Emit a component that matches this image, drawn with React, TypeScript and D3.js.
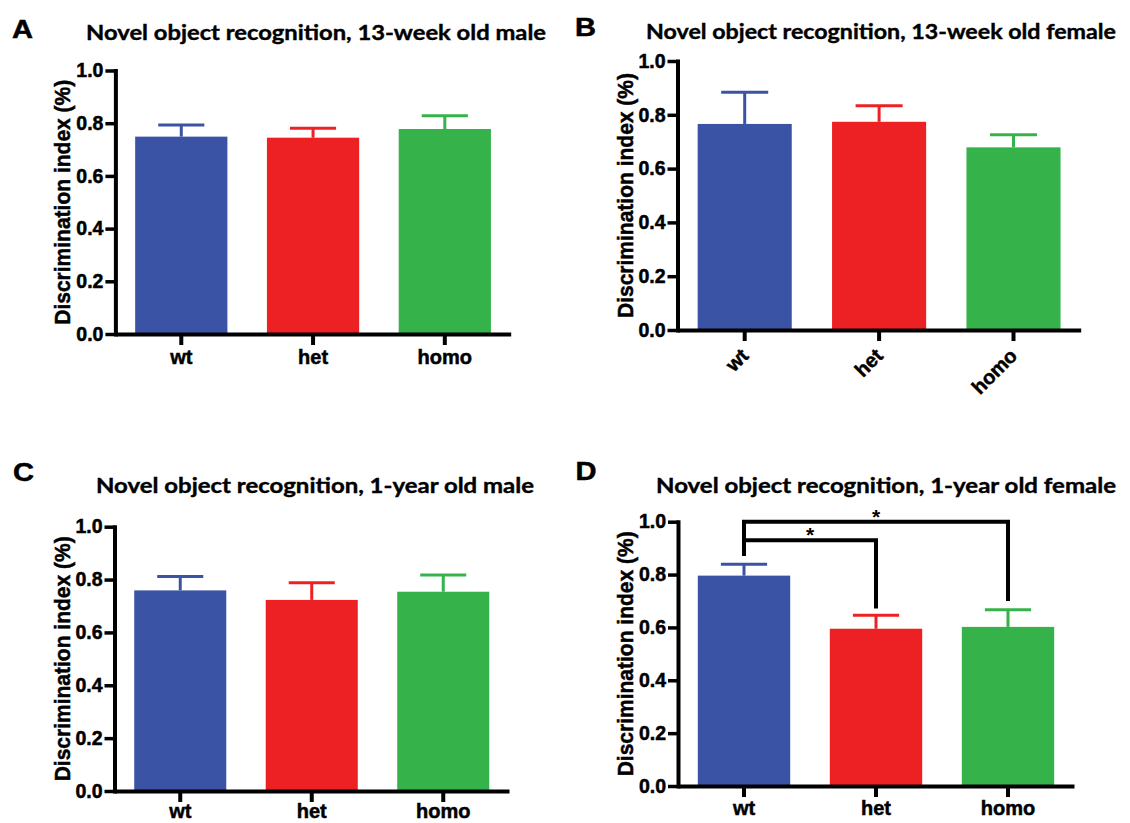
import React, { useEffect, useRef } from 'react'
import * as d3 from 'd3'

// genotype groups and y ticks shared by every panel
const groups = ['wt', 'het', 'homo']
const yTicks = [0, 0.2, 0.4, 0.6, 0.8, 1.0]
const colors = ['#3a53a4', '#ed2024', '#35b34a']

// A: 13-week old male
const male13wMean = [0.749, 0.745, 0.778]
const male13wSem = [0.044, 0.036, 0.050]
// B: 13-week old female
const female13wMean = [0.766, 0.774, 0.679]
const female13wSem = [0.118, 0.060, 0.047]
// C: 1-year old male
const male1yMean = [0.759, 0.723, 0.754]
const male1ySem = [0.053, 0.065, 0.063]
// D: 1-year old female
const female1yMean = [0.796, 0.595, 0.602]
const female1ySem = [0.043, 0.051, 0.065]

// significance brackets in panel D (y in data units)
const female1ySig = [
  { from: 'wt', to: 'het', level: 0.93, fromDrop: 0.87, toDrop: 0.672, label: '*' },
  { from: 'wt', to: 'homo', level: 1.0, fromDrop: 0.87, toDrop: 0.70, label: '*' },
]

const titles = [
  'Novel object recognition, 13-week old male',
  'Novel object recognition, 13-week old female',
  'Novel object recognition, 1-year old male',
  'Novel object recognition, 1-year old female',
]
const letters = ['A', 'B', 'C', 'D']

const ARIAL = '"Liberation Sans", Arial, sans-serif'
const CALIBRI = 'Lato, "Open Sans", sans-serif'

const App = () => {
  const ref = useRef<SVGSVGElement>(null)

  useEffect(() => {
    const svg = d3.select(ref.current)
    svg.selectAll('*').remove()

    const panels = [
      { mean: male13wMean, sem: male13wSem, sig: [], rotate: false, labelY: 30,
        x0: 115.4, x1: 510.7, yTop: 70.5, yBottom: 334,
        title: { x: 86, y: 40, w: 460 }, letter: { x: 12, y: 38 } },
      { mean: female13wMean, sem: female13wSem, sig: [], rotate: true, labelY: 27,
        x0: 677.5, x1: 1080.7, yTop: 61, yBottom: 330,
        title: { x: 646, y: 39, w: 470 }, letter: { x: 575, y: 35.5 } },
      { mean: male1yMean, sem: male1ySem, sig: [], rotate: false, labelY: 27,
        x0: 114.5, x1: 509, yTop: 526.7, yBottom: 791,
        title: { x: 96, y: 493, w: 438 }, letter: { x: 13, y: 480.5 } },
      { mean: female1yMean, sem: female1ySem, sig: female1ySig, rotate: false, labelY: 29,
        x0: 678, x1: 1074, yTop: 521.7, yBottom: 786,
        title: { x: 656, y: 493, w: 460 }, letter: { x: 575.5, y: 479.5 } },
    ]

    panels.forEach((p, pi) => {
      const g = svg.append('g')
      const x = d3.scaleBand().domain(groups).range([p.x0, p.x1])
        .paddingInner(0.3).paddingOuter(0.15)
      const y = d3.scaleLinear().domain([0, 1]).range([p.yBottom, p.yTop])
      const bw = x.bandwidth()
      const cx = (d: string) => (x(d) as number) + bw / 2

      // bars
      g.selectAll('.bar').data(groups).enter().append('rect')
        .attr('x', d => x(d) as number)
        .attr('width', bw)
        .attr('y', (d, i) => y(p.mean[i]))
        .attr('height', (d, i) => p.yBottom - y(p.mean[i]))
        .attr('fill', (d, i) => colors[i])

      // error bars (upper only)
      const eb = g.selectAll('.err').data(groups).enter().append('g')
      eb.append('line')
        .attr('x1', d => cx(d)).attr('x2', d => cx(d))
        .attr('y1', (d, i) => y(p.mean[i]))
        .attr('y2', (d, i) => y(p.mean[i] + p.sem[i]))
        .attr('stroke', (d, i) => colors[i]).attr('stroke-width', 3)
      eb.append('line')
        .attr('x1', d => cx(d) - bw / 4).attr('x2', d => cx(d) + bw / 4)
        .attr('y1', (d, i) => y(p.mean[i] + p.sem[i]))
        .attr('y2', (d, i) => y(p.mean[i] + p.sem[i]))
        .attr('stroke', (d, i) => colors[i]).attr('stroke-width', 3)

      // y axis
      const yAxis = g.append('g')
        .attr('transform', `translate(${p.x0},0)`)
        .call(d3.axisLeft(y).tickValues(yTicks).tickSize(10).tickSizeOuter(0)
          .tickPadding(2).tickFormat(d3.format('.1f')))
      yAxis.select('.domain').attr('stroke', '#000').attr('stroke-width', 4)
        .attr('stroke-linecap', 'square')
      yAxis.selectAll('.tick line').attr('stroke', '#000').attr('stroke-width', 3.5)
      yAxis.selectAll('.tick text').attr('fill', '#000')
        .attr('stroke', '#000').attr('stroke-width', 0.5)
        .style('font-family', ARIAL).style('font-weight', 'bold').style('font-size', '19.5px')

      // x axis
      const xAxis = g.append('g')
        .attr('transform', `translate(0,${p.yBottom})`)
        .call(d3.axisBottom(x).tickSize(11).tickSizeOuter(0))
      xAxis.select('.domain').attr('stroke', '#000').attr('stroke-width', 4)
      xAxis.selectAll('.tick line').attr('stroke', '#000').attr('stroke-width', 4)
      const xt = xAxis.selectAll('.tick text').attr('fill', '#000')
        .attr('stroke', '#000').attr('stroke-width', 0.5)
        .style('font-family', ARIAL).style('font-weight', 'bold').style('font-size', '20px')
      if (p.rotate) {
        xt.attr('x', 0).attr('y', 0).attr('dy', 0)
          .attr('text-anchor', 'end')
          .attr('transform', `translate(5,${p.labelY}) rotate(-45)`)
      } else {
        xt.attr('y', p.labelY).attr('dy', 0)
      }

      // y axis label
      g.append('text')
        .attr('transform', `translate(${p.x0 - 45},${(p.yTop + p.yBottom) / 2}) rotate(-90)`)
        .attr('text-anchor', 'middle')
        .attr('textLength', 245).attr('lengthAdjust', 'spacingAndGlyphs')
        .attr('stroke', '#000').attr('stroke-width', 0.5)
        .style('font-family', ARIAL).style('font-weight', 'bold').style('font-size', '22.5px')
        .text('Discrimination index (%)')

      // significance brackets
      p.sig.forEach(s => {
        const path = d3.path()
        path.moveTo(cx(s.from), y(s.fromDrop))
        path.lineTo(cx(s.from), y(s.level))
        path.lineTo(cx(s.to), y(s.level))
        path.lineTo(cx(s.to), y(s.toDrop))
        g.append('path').attr('d', path.toString())
          .attr('fill', 'none').attr('stroke', '#000').attr('stroke-width', 4)
        g.append('text')
          .attr('x', (cx(s.from) + cx(s.to)) / 2)
          .attr('y', y(s.level) + 2)
          .attr('text-anchor', 'middle')
          .style('font-family', ARIAL).style('font-weight', 'bold').style('font-size', '21px')
          .text(s.label)
      })

      // title and panel letter
      g.append('text')
        .attr('x', p.title.x).attr('y', p.title.y)
        .attr('textLength', p.title.w).attr('lengthAdjust', 'spacingAndGlyphs')
        .attr('stroke', '#000').attr('stroke-width', 0.4)
        .style('font-family', CALIBRI).style('font-weight', 'bold').style('font-size', '21px')
        .text(titles[pi])
      g.append('text')
        .attr('x', p.letter.x).attr('y', p.letter.y)
        .attr('textLength', 21).attr('lengthAdjust', 'spacingAndGlyphs')
        .attr('stroke', '#000').attr('stroke-width', 0.5)
        .style('font-family', ARIAL).style('font-weight', 'bold').style('font-size', '26px')
        .text(letters[pi])
    })
  }, [])

  return (
    <svg ref={ref} width={1130} height={823}
      style={{ position: 'absolute', left: 0, top: 0, background: '#fff' }} />
  )
}

export default App
